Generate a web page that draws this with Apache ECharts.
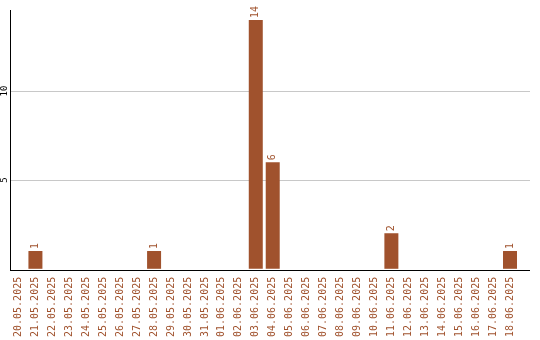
<!DOCTYPE html>
<html><head><meta charset="utf-8">
<script src="https://cdn.jsdelivr.net/npm/echarts@6/dist/echarts.min.js"></script>
<style>html,body{margin:0;padding:0;background:#fff}#c{width:540px;height:340px}</style>
</head><body><div id="c"></div>
<script>
const categories = ["20.05.2025","21.05.2025","22.05.2025","23.05.2025","24.05.2025","25.05.2025","26.05.2025","27.05.2025","28.05.2025","29.05.2025","30.05.2025","31.05.2025","01.06.2025","02.06.2025","03.06.2025","04.06.2025","05.06.2025","06.06.2025","07.06.2025","08.06.2025","09.06.2025","10.06.2025","11.06.2025","12.06.2025","13.06.2025","14.06.2025","15.06.2025","16.06.2025","17.06.2025","18.06.2025"];
const counts = [0,1,0,0,0,0,0,0,1,0,0,0,0,0,14,6,0,0,0,0,0,0,2,0,0,0,0,0,0,1];
const yTicks = [0,5,10];
const yMax = 14.56;
const color = '#A0522D';
const chart = echarts.init(document.getElementById('c'));
chart.setOption({
  animation:false,
  grid:[{left:8.5,right:21.5,top:10,bottom:70},{left:10,right:10,top:10,bottom:70}],
  xAxis:[{type:'category',data:categories,gridIndex:0,
    axisLine:{show:false},axisTick:{show:false},
    axisLabel:{interval:0,rotate:90,color:color,fontFamily:'DejaVu Sans Mono',fontSize:10,margin:8}},
    {type:'value',gridIndex:1,show:false}],
  yAxis:[{type:'value',min:0,max:yMax,interval:5,gridIndex:0,
    axisLine:{show:false},axisTick:{show:false},splitLine:{show:false},
    axisLabel:{rotate:90,fontSize:9,color:'#000',fontFamily:'DejaVu Sans Mono',margin:1,
      formatter:v=>yTicks.indexOf(v)>0?String(v):''}},
    {type:'value',min:0,max:yMax,interval:5,gridIndex:1,
    axisLine:{show:false},axisTick:{show:false},axisLabel:{show:false},
    splitLine:{showMinLine:false,showMaxLine:false,lineStyle:{color:'#c8c8c8'}}}],
  graphic:[
    {type:'line',shape:{x1:10.5,y1:10,x2:10.5,y2:270.5},style:{stroke:'#000',lineWidth:1},z:10},
    {type:'line',shape:{x1:10,y1:270.5,x2:530,y2:270.5},style:{stroke:'#000',lineWidth:1},z:10}],
  series:[{type:'bar',data:counts.map(v=>v===0?null:v),barWidth:14,itemStyle:{color:color},
    label:{show:true,position:'top',rotate:90,align:'left',verticalAlign:'middle',distance:2,
      color:color,fontFamily:'DejaVu Sans Mono',fontSize:10}}]
});
</script></body></html>
